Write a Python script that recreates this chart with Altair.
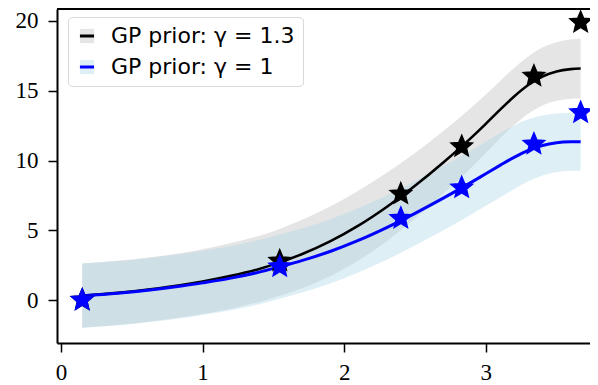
import altair as alt

# ---- data ----
x_grid = [0.15, 0.4, 0.63, 0.85, 1.0, 1.2, 1.4, 1.545, 1.7, 1.9, 2.1, 2.3,
          2.5, 2.7, 2.9, 3.0, 3.1, 3.2, 3.3, 3.4, 3.5, 3.6, 3.67]

black_mean = [0.31, 0.51, 0.765, 1.07, 1.325, 1.73, 2.23, 2.7, 3.28, 4.2, 5.33, 6.67,
              8.19, 9.86, 11.66, 12.63, 13.63, 14.59, 15.41, 16.02, 16.38, 16.55, 16.6]
black_half = [2.3, 2.3, 2.3, 2.3, 2.32, 2.35, 2.37, 2.4, 2.45, 2.5, 2.5, 2.45,
              2.35, 2.25, 2.15, 2.1, 2.05, 2.05, 2.05, 2.08, 2.1, 2.12, 2.15]

blue_mean = [0.31, 0.49, 0.72, 1.0, 1.23, 1.57, 2.0, 2.39, 2.82, 3.48, 4.27, 5.19,
             6.21, 7.3, 8.45, 9.05, 9.65, 10.23, 10.73, 11.08, 11.27, 11.34, 11.35]
blue_half = [2.3, 2.3, 2.3, 2.3, 2.3, 2.3, 2.3, 2.3, 2.3, 2.3, 2.3, 2.3,
             2.3, 2.3, 2.3, 2.3, 2.3, 2.28, 2.22, 2.15, 2.1, 2.08, 2.08]

obs_x = [0.15, 1.545, 2.40, 2.83, 3.34, 3.67]
black_obs = [0.0, 2.8, 7.6, 11.0, 16.05, 19.9]
blue_obs = [0.0, 2.39, 5.86, 8.05, 11.18, 13.43]

labels = ["GP prior: γ = 1.3", "GP prior: γ = 1"]
x_ticks = [0, 1, 2, 3]
y_ticks = [0, 5, 10, 15, 20]


def rows(**cols):
    keys = list(cols)
    n = max(len(v) for v in cols.values() if isinstance(v, list))
    return [{k: (cols[k][i] if isinstance(cols[k], list) else cols[k]) for k in keys}
            for i in range(n)]


black_lo = [m - h for m, h in zip(black_mean, black_half)]
black_hi = [m + h for m, h in zip(black_mean, black_half)]
blue_lo = [m - h for m, h in zip(blue_mean, blue_half)]
blue_hi = [m + h for m, h in zip(blue_mean, blue_half)]

line_labels = [l + " " for l in labels]
band_black = alt.Data(values=rows(x=x_grid, lo=black_lo, hi=black_hi, series=labels[0]))
band_blue = alt.Data(values=rows(x=x_grid, lo=blue_lo, hi=blue_hi, series=labels[1]))
line_black = alt.Data(values=rows(x=x_grid, y=black_mean, series_s=line_labels[0]))
line_blue = alt.Data(values=rows(x=x_grid, y=blue_mean, series_s=line_labels[1]))
pts_black = alt.Data(values=rows(x=obs_x, y=black_obs))
pts_blue = alt.Data(values=rows(x=obs_x, y=blue_obs))

STAR = ("M0,-1L0.265,-0.364L0.951,-0.309L0.428,0.139L0.588,0.809L0,0.45"
        "L-0.588,0.809L-0.428,0.139L-0.951,-0.309L-0.265,-0.364Z")

W, H = 533, 334
xs = alt.Scale(domain=[-0.028, 3.736], nice=False, zero=False)
ys = alt.Scale(domain=[-3.08, 20.86], nice=False, zero=False)
x_axis = alt.Axis(values=x_ticks, title=None, grid=False, format="d", labelPadding=9)
y_axis = alt.Axis(values=y_ticks, title=None, grid=False, format="d", labelPadding=10)
fill_scale = alt.Scale(domain=labels, range=["rgba(211,211,211,0.6)", "rgba(173,216,230,0.4)"])
stroke_scale = alt.Scale(domain=line_labels, range=["black", "blue"])

common = dict(orient="none", legendX=11, legendY=8, title=None,
              labelFont="DejaVu Sans", labelFontSize=22, labelLimit=500,
              symbolSize=200, labelOffset=13, rowPadding=9, padding=8)
fill_legend = alt.Legend(symbolType="square", symbolStrokeWidth=0,
                         fillColor="white", strokeColor="#d9d9d9", cornerRadius=4,
                         labelColor="black", **common)
stroke_legend = alt.Legend(symbolType="stroke", symbolStrokeWidth=3,
                           labelOpacity=0, **common)


def band(d):
    return alt.Chart(d).mark_area(opacity=1, interpolate="monotone").encode(
        x=alt.X("x:Q", scale=xs, axis=x_axis),
        y=alt.Y("lo:Q", scale=ys, axis=y_axis),
        y2="hi:Q",
        fill=alt.Fill("series:N", scale=fill_scale, legend=fill_legend),
    )


def line(d, sw):
    return alt.Chart(d).mark_line(interpolate="monotone", strokeWidth=sw).encode(
        x=alt.X("x:Q", scale=xs),
        y=alt.Y("y:Q", scale=ys),
        stroke=alt.Stroke("series_s:N", scale=stroke_scale, legend=stroke_legend),
    )


def stars(d, col):
    return alt.Chart(d).mark_point(shape=STAR, filled=True, size=500, opacity=1,
                                   color=col, stroke=col, strokeWidth=1.5).encode(
        x=alt.X("x:Q", scale=xs),
        y=alt.Y("y:Q", scale=ys),
    )


top_spine = alt.Chart(alt.Data(values=[{"a": 0}])).mark_rule(color="black", strokeWidth=2).encode(
    x=alt.value(0), x2=alt.value(W), y=alt.value(0)
)

chart = alt.layer(
    band(band_black), band(band_blue),
    line(line_black, 2.6), line(line_blue, 3.0),
    stars(pts_black, "black"), stars(pts_blue, "blue"),
    top_spine,
).properties(
    width=W, height=H,
    autosize=alt.AutoSizeParams(type="none"),
    padding={"left": 49, "top": 1, "right": 0, "bottom": 40},
).configure_view(stroke=None).configure_axis(
    labelFont="Liberation Serif", labelFontSize=23, labelColor="black",
    domainColor="black", domainWidth=2, tickColor="black", tickWidth=1.5, tickSize=9,
)

chart.save("out.html", embed_options={"renderer": "svg", "actions": False})
